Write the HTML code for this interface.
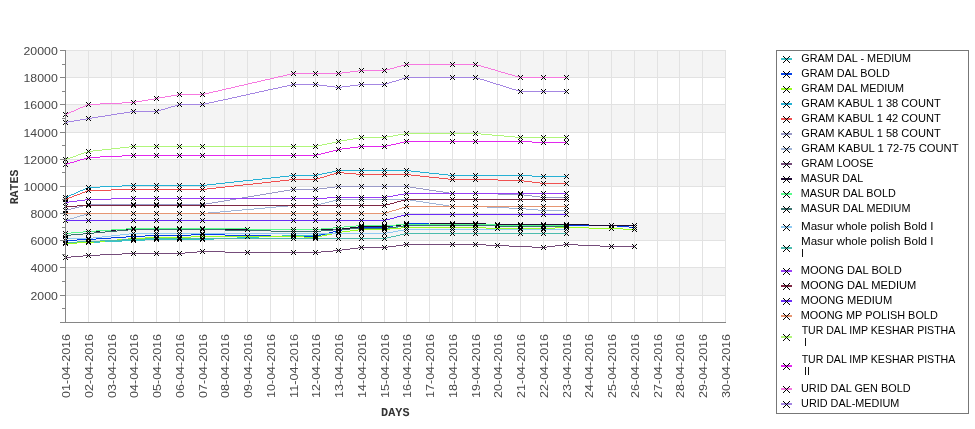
<!DOCTYPE html>
<html><head><meta charset="utf-8"><title>Rates chart</title>
<style>
html,body{margin:0;padding:0;background:#fff;}
body{width:975px;height:429px;overflow:hidden;font-family:"Liberation Sans",sans-serif;}
svg{display:block;will-change:transform;}
svg text{font-family:"Liberation Sans",sans-serif;}
.mono{font-family:"Liberation Mono",monospace;font-weight:bold;text-rendering:geometricPrecision;}
</style></head><body>
<svg width="975" height="429" viewBox="0 0 975 429">
<rect x="0" y="0" width="975" height="429" fill="#ffffff"/>
<g shape-rendering="crispEdges">
<rect x="66" y="50" width="660" height="27" fill="#f4f4f4"/>
<rect x="66" y="104" width="660" height="28" fill="#f4f4f4"/>
<rect x="66" y="159" width="660" height="27" fill="#f4f4f4"/>
<rect x="66" y="213" width="660" height="27" fill="#f4f4f4"/>
<rect x="66" y="267" width="660" height="28" fill="#f4f4f4"/>
<rect x="66" y="295" width="660" height="1" fill="#e2e2e2"/>
<rect x="66" y="267" width="660" height="1" fill="#e2e2e2"/>
<rect x="66" y="240" width="660" height="1" fill="#e2e2e2"/>
<rect x="66" y="213" width="660" height="1" fill="#e2e2e2"/>
<rect x="66" y="186" width="660" height="1" fill="#e2e2e2"/>
<rect x="66" y="159" width="660" height="1" fill="#e2e2e2"/>
<rect x="66" y="132" width="660" height="1" fill="#e2e2e2"/>
<rect x="66" y="104" width="660" height="1" fill="#e2e2e2"/>
<rect x="66" y="77" width="660" height="1" fill="#e2e2e2"/>
<rect x="66" y="50" width="660" height="1" fill="#e2e2e2"/>
<rect x="88" y="50" width="1" height="272" fill="#e2e2e2"/>
<rect x="111" y="50" width="1" height="272" fill="#e2e2e2"/>
<rect x="133" y="50" width="1" height="272" fill="#e2e2e2"/>
<rect x="156" y="50" width="1" height="272" fill="#e2e2e2"/>
<rect x="179" y="50" width="1" height="272" fill="#e2e2e2"/>
<rect x="202" y="50" width="1" height="272" fill="#e2e2e2"/>
<rect x="224" y="50" width="1" height="272" fill="#e2e2e2"/>
<rect x="247" y="50" width="1" height="272" fill="#e2e2e2"/>
<rect x="270" y="50" width="1" height="272" fill="#e2e2e2"/>
<rect x="293" y="50" width="1" height="272" fill="#e2e2e2"/>
<rect x="315" y="50" width="1" height="272" fill="#e2e2e2"/>
<rect x="338" y="50" width="1" height="272" fill="#e2e2e2"/>
<rect x="361" y="50" width="1" height="272" fill="#e2e2e2"/>
<rect x="384" y="50" width="1" height="272" fill="#e2e2e2"/>
<rect x="406" y="50" width="1" height="272" fill="#e2e2e2"/>
<rect x="429" y="50" width="1" height="272" fill="#e2e2e2"/>
<rect x="452" y="50" width="1" height="272" fill="#e2e2e2"/>
<rect x="475" y="50" width="1" height="272" fill="#e2e2e2"/>
<rect x="497" y="50" width="1" height="272" fill="#e2e2e2"/>
<rect x="520" y="50" width="1" height="272" fill="#e2e2e2"/>
<rect x="543" y="50" width="1" height="272" fill="#e2e2e2"/>
<rect x="566" y="50" width="1" height="272" fill="#e2e2e2"/>
<rect x="588" y="50" width="1" height="272" fill="#e2e2e2"/>
<rect x="611" y="50" width="1" height="272" fill="#e2e2e2"/>
<rect x="634" y="50" width="1" height="272" fill="#e2e2e2"/>
<rect x="657" y="50" width="1" height="272" fill="#e2e2e2"/>
<rect x="679" y="50" width="1" height="272" fill="#e2e2e2"/>
<rect x="702" y="50" width="1" height="272" fill="#e2e2e2"/>
<rect x="725" y="50" width="1" height="272" fill="#e2e2e2"/>
</g>
<g font-size="11.6" fill="#484848" text-anchor="end">
<text x="57.8" y="299.8" textLength="27.3" lengthAdjust="spacingAndGlyphs">2000</text>
<text x="57.8" y="271.8" textLength="27.3" lengthAdjust="spacingAndGlyphs">4000</text>
<text x="57.8" y="244.8" textLength="27.3" lengthAdjust="spacingAndGlyphs">6000</text>
<text x="57.8" y="217.8" textLength="27.3" lengthAdjust="spacingAndGlyphs">8000</text>
<text x="57.8" y="190.8" textLength="34.3" lengthAdjust="spacingAndGlyphs">10000</text>
<text x="57.8" y="163.8" textLength="34.3" lengthAdjust="spacingAndGlyphs">12000</text>
<text x="57.8" y="136.8" textLength="34.3" lengthAdjust="spacingAndGlyphs">14000</text>
<text x="57.8" y="108.8" textLength="34.3" lengthAdjust="spacingAndGlyphs">16000</text>
<text x="57.8" y="81.8" textLength="34.3" lengthAdjust="spacingAndGlyphs">18000</text>
<text x="57.8" y="54.8" textLength="34.3" lengthAdjust="spacingAndGlyphs">20000</text>
</g>
<g font-size="11.6" fill="#484848" text-anchor="end">
<text transform="translate(70.1,334) rotate(-90)" textLength="63.9" lengthAdjust="spacingAndGlyphs">01-04-2016</text>
<text transform="translate(93.1,334) rotate(-90)" textLength="63.9" lengthAdjust="spacingAndGlyphs">02-04-2016</text>
<text transform="translate(116.1,334) rotate(-90)" textLength="63.9" lengthAdjust="spacingAndGlyphs">03-04-2016</text>
<text transform="translate(138.1,334) rotate(-90)" textLength="63.9" lengthAdjust="spacingAndGlyphs">04-04-2016</text>
<text transform="translate(161.1,334) rotate(-90)" textLength="63.9" lengthAdjust="spacingAndGlyphs">05-04-2016</text>
<text transform="translate(184.1,334) rotate(-90)" textLength="63.9" lengthAdjust="spacingAndGlyphs">06-04-2016</text>
<text transform="translate(207.1,334) rotate(-90)" textLength="63.9" lengthAdjust="spacingAndGlyphs">07-04-2016</text>
<text transform="translate(229.1,334) rotate(-90)" textLength="63.9" lengthAdjust="spacingAndGlyphs">08-04-2016</text>
<text transform="translate(252.1,334) rotate(-90)" textLength="63.9" lengthAdjust="spacingAndGlyphs">09-04-2016</text>
<text transform="translate(275.1,334) rotate(-90)" textLength="63.9" lengthAdjust="spacingAndGlyphs">10-04-2016</text>
<text transform="translate(298.1,334) rotate(-90)" textLength="63.9" lengthAdjust="spacingAndGlyphs">11-04-2016</text>
<text transform="translate(320.1,334) rotate(-90)" textLength="63.9" lengthAdjust="spacingAndGlyphs">12-04-2016</text>
<text transform="translate(343.1,334) rotate(-90)" textLength="63.9" lengthAdjust="spacingAndGlyphs">13-04-2016</text>
<text transform="translate(366.1,334) rotate(-90)" textLength="63.9" lengthAdjust="spacingAndGlyphs">14-04-2016</text>
<text transform="translate(389.1,334) rotate(-90)" textLength="63.9" lengthAdjust="spacingAndGlyphs">15-04-2016</text>
<text transform="translate(411.1,334) rotate(-90)" textLength="63.9" lengthAdjust="spacingAndGlyphs">16-04-2016</text>
<text transform="translate(434.1,334) rotate(-90)" textLength="63.9" lengthAdjust="spacingAndGlyphs">17-04-2016</text>
<text transform="translate(457.1,334) rotate(-90)" textLength="63.9" lengthAdjust="spacingAndGlyphs">18-04-2016</text>
<text transform="translate(480.1,334) rotate(-90)" textLength="63.9" lengthAdjust="spacingAndGlyphs">19-04-2016</text>
<text transform="translate(502.1,334) rotate(-90)" textLength="63.9" lengthAdjust="spacingAndGlyphs">20-04-2016</text>
<text transform="translate(525.1,334) rotate(-90)" textLength="63.9" lengthAdjust="spacingAndGlyphs">21-04-2016</text>
<text transform="translate(548.1,334) rotate(-90)" textLength="63.9" lengthAdjust="spacingAndGlyphs">22-04-2016</text>
<text transform="translate(571.1,334) rotate(-90)" textLength="63.9" lengthAdjust="spacingAndGlyphs">23-04-2016</text>
<text transform="translate(593.1,334) rotate(-90)" textLength="63.9" lengthAdjust="spacingAndGlyphs">24-04-2016</text>
<text transform="translate(616.1,334) rotate(-90)" textLength="63.9" lengthAdjust="spacingAndGlyphs">25-04-2016</text>
<text transform="translate(639.1,334) rotate(-90)" textLength="63.9" lengthAdjust="spacingAndGlyphs">26-04-2016</text>
<text transform="translate(662.1,334) rotate(-90)" textLength="63.9" lengthAdjust="spacingAndGlyphs">27-04-2016</text>
<text transform="translate(684.1,334) rotate(-90)" textLength="63.9" lengthAdjust="spacingAndGlyphs">28-04-2016</text>
<text transform="translate(707.1,334) rotate(-90)" textLength="63.9" lengthAdjust="spacingAndGlyphs">29-04-2016</text>
<text transform="translate(730.1,334) rotate(-90)" textLength="63.9" lengthAdjust="spacingAndGlyphs">30-04-2016</text>
</g>
<text class="mono" x="395.3" y="416" font-size="12" fill="#333" text-anchor="middle" textLength="28.4" lengthAdjust="spacingAndGlyphs">DAYS</text>
<text class="mono" transform="translate(18.4,187) rotate(-90)" font-size="12" fill="#333" text-anchor="middle" textLength="34.6" lengthAdjust="spacingAndGlyphs">RATES</text>
<defs><path id="mk" d="M-2-2h1v1h-1zM-1-1h1v1h-1zM0 0h1v1h-1zM1 1h1v1h-1zM2 2h1v1h-1zM-2 2h1v1h-1zM-1 1h1v1h-1zM1-1h1v1h-1zM2-2h1v1h-1z" fill="#000"/><path id="mkL" d="M-3-3h1v1h-1zM-2-2h1v1h-1zM-1-1h1v1h-1zM0 0h1v1h-1zM1 1h1v1h-1zM2 2h1v1h-1zM3 3h1v1h-1zM-3 3h1v1h-1zM-2 2h1v1h-1zM-1 1h1v1h-1zM1-1h1v1h-1zM2-2h1v1h-1zM3-3h1v1h-1z" fill="#000"/></defs>
<g shape-rendering="crispEdges">
<path d="M65 243h12v1h-12zM77 242h12v1h-12zM88 242h12v1h-12zM100 241h22v1h-22zM122 240h12v1h-12zM133 240h12v1h-12zM145 239h12v1h-12zM156 239h24v1h-24zM179 239h24v1h-24zM202 239h12v1h-12zM214 238h23v1h-23zM237 237h22v1h-22zM259 236h23v1h-23zM282 235h12v1h-12zM293 235h23v1h-23zM315 235h4v1h-4zM319 234h8v1h-8zM327 233h8v1h-8zM335 232h4v1h-4zM338 232h4v1h-4zM342 231h8v1h-8zM350 230h8v1h-8zM358 229h4v1h-4zM361 229h24v1h-24zM384 229h3v1h-3zM387 228h6v1h-6zM393 227h5v1h-5zM398 226h6v1h-6zM404 225h3v1h-3zM406 225h47v1h-47zM452 225h24v1h-24zM475 225h23v1h-23zM498 226h23v1h-23zM520 226h24v1h-24zM543 226h24v1h-24z" fill="#3ac4c8"/>
<path d="M65 240h12v1h-12zM77 239h12v1h-12zM88 239h8v1h-8zM96 238h15v1h-15zM111 237h15v1h-15zM126 236h8v1h-8zM133 236h12v1h-12zM145 235h12v1h-12zM156 235h24v1h-24zM179 235h12v1h-12zM191 234h12v1h-12zM202 234h23v1h-23zM225 235h46v1h-46zM271 236h23v1h-23zM293 236h23v1h-23zM315 236h2v1h-2zM317 235h4v1h-4zM321 234h4v1h-4zM325 233h4v1h-4zM329 232h4v1h-4zM333 231h4v1h-4zM337 230h2v1h-2zM338 230h4v1h-4zM342 229h8v1h-8zM350 228h8v1h-8zM358 227h4v1h-4zM361 227h24v1h-24zM384 227h3v1h-3zM387 226h6v1h-6zM393 225h5v1h-5zM398 224h6v1h-6zM404 223h3v1h-3zM406 223h23v1h-23zM429 224h24v1h-24zM452 224h24v1h-24zM475 224h11v1h-11zM486 225h12v1h-12zM497 225h24v1h-24zM520 225h24v1h-24zM543 225h24v1h-24zM566 225h46v1h-46zM611 225h6v1h-6zM617 226h12v1h-12zM629 227h6v1h-6z" fill="#0442e8"/>
<path d="M65 243h12v1h-12zM77 242h12v1h-12zM88 242h6v1h-6zM94 241h11v1h-11zM105 240h12v1h-12zM117 239h11v1h-11zM128 238h6v1h-6zM133 238h12v1h-12zM145 237h12v1h-12zM156 237h24v1h-24zM179 237h12v1h-12zM191 236h12v1h-12zM202 236h46v1h-46zM247 236h47v1h-47zM293 236h11v1h-11zM304 237h12v1h-12zM315 237h3v1h-3zM318 236h4v1h-4zM322 235h5v1h-5zM327 234h5v1h-5zM332 233h4v1h-4zM336 232h3v1h-3zM338 232h4v1h-4zM342 231h8v1h-8zM350 230h8v1h-8zM358 229h4v1h-4zM361 229h24v1h-24zM384 229h6v1h-6zM390 228h11v1h-11zM401 227h6v1h-6zM406 227h47v1h-47zM452 227h24v1h-24zM475 227h11v1h-11zM486 228h12v1h-12zM497 228h24v1h-24zM520 228h24v1h-24zM543 228h12v1h-12zM555 227h12v1h-12zM566 227h23v1h-23zM589 228h23v1h-23zM611 228h12v1h-12zM623 229h12v1h-12z" fill="#9afe22"/>
<path d="M65 197h2v1h-2zM67 196h2v1h-2zM69 195h2v1h-2zM71 194h3v1h-3zM74 193h2v1h-2zM76 192h2v1h-2zM78 191h2v1h-2zM80 190h3v1h-3zM83 189h2v1h-2zM85 188h2v1h-2zM87 187h2v1h-2zM88 187h12v1h-12zM100 186h22v1h-22zM122 185h12v1h-12zM133 185h24v1h-24zM156 185h24v1h-24zM179 185h24v1h-24zM202 185h5v1h-5zM207 184h9v1h-9zM216 183h9v1h-9zM225 182h9v1h-9zM234 181h9v1h-9zM243 180h10v1h-10zM253 179h9v1h-9zM262 178h9v1h-9zM271 177h9v1h-9zM280 176h9v1h-9zM289 175h5v1h-5zM293 175h23v1h-23zM315 175h3v1h-3zM318 174h4v1h-4zM322 173h5v1h-5zM327 172h5v1h-5zM332 171h4v1h-4zM336 170h3v1h-3zM338 170h24v1h-24zM361 170h24v1h-24zM384 170h23v1h-23zM406 170h5v1h-5zM411 171h9v1h-9zM420 172h9v1h-9zM429 173h10v1h-10zM439 174h9v1h-9zM448 175h5v1h-5zM452 175h24v1h-24zM475 175h46v1h-46zM520 175h12v1h-12zM532 176h12v1h-12zM543 176h24v1h-24z" fill="#26b0d4"/>
<path d="M65 199h2v1h-2zM67 198h2v1h-2zM69 197h3v1h-3zM72 196h2v1h-2zM74 195h3v1h-3zM77 194h3v1h-3zM80 193h2v1h-2zM82 192h3v1h-3zM85 191h2v1h-2zM87 190h2v1h-2zM88 190h23v1h-23zM111 189h23v1h-23zM133 189h24v1h-24zM156 189h24v1h-24zM179 189h24v1h-24zM202 189h5v1h-5zM207 188h9v1h-9zM216 187h9v1h-9zM225 186h9v1h-9zM234 185h9v1h-9zM243 184h10v1h-10zM253 183h9v1h-9zM262 182h9v1h-9zM271 181h9v1h-9zM280 180h9v1h-9zM289 179h5v1h-5zM293 179h23v1h-23zM315 179h2v1h-2zM317 178h3v1h-3zM320 177h4v1h-4zM324 176h3v1h-3zM327 175h3v1h-3zM330 174h4v1h-4zM334 173h3v1h-3zM337 172h2v1h-2zM338 172h6v1h-6zM344 173h12v1h-12zM356 174h6v1h-6zM361 174h24v1h-24zM384 174h23v1h-23zM406 174h5v1h-5zM411 175h9v1h-9zM420 176h9v1h-9zM429 177h10v1h-10zM439 178h9v1h-9zM448 179h5v1h-5zM452 179h24v1h-24zM475 179h23v1h-23zM498 180h23v1h-23zM520 180h4v1h-4zM524 181h8v1h-8zM532 182h8v1h-8zM540 183h4v1h-4zM543 183h24v1h-24z" fill="#f05050"/>
<path d="M65 210h2v1h-2zM67 209h4v1h-4zM71 208h4v1h-4zM75 207h4v1h-4zM79 206h4v1h-4zM83 205h4v1h-4zM87 204h2v1h-2zM88 204h46v1h-46zM133 204h24v1h-24zM156 204h24v1h-24zM179 204h24v1h-24zM202 204h4v1h-4zM206 203h6v1h-6zM212 202h6v1h-6zM218 201h6v1h-6zM224 200h6v1h-6zM230 199h6v1h-6zM236 198h6v1h-6zM242 197h6v1h-6zM248 196h6v1h-6zM254 195h6v1h-6zM260 194h6v1h-6zM266 193h6v1h-6zM272 192h6v1h-6zM278 191h6v1h-6zM284 190h6v1h-6zM290 189h4v1h-4zM293 189h23v1h-23zM315 189h4v1h-4zM319 188h8v1h-8zM327 187h8v1h-8zM335 186h4v1h-4zM338 186h24v1h-24zM361 186h24v1h-24zM384 186h23v1h-23zM406 186h4v1h-4zM410 187h6v1h-6zM416 188h7v1h-7zM423 189h6v1h-6zM429 190h7v1h-7zM436 191h7v1h-7zM443 192h6v1h-6zM449 193h4v1h-4zM452 193h24v1h-24zM475 193h23v1h-23zM498 194h23v1h-23zM520 194h4v1h-4zM524 195h8v1h-8zM532 196h8v1h-8zM540 197h4v1h-4zM543 197h24v1h-24z" fill="#9a9ac8"/>
<path d="M65 220h2v1h-2zM67 219h3v1h-3zM70 218h4v1h-4zM74 217h3v1h-3zM77 216h3v1h-3zM80 215h4v1h-4zM84 214h3v1h-3zM87 213h2v1h-2zM88 213h46v1h-46zM133 213h24v1h-24zM156 213h24v1h-24zM179 213h24v1h-24zM202 213h6v1h-6zM208 212h12v1h-12zM220 211h11v1h-11zM231 210h11v1h-11zM242 209h12v1h-12zM254 208h11v1h-11zM265 207h11v1h-11zM276 206h12v1h-12zM288 205h6v1h-6zM293 205h23v1h-23zM315 205h2v1h-2zM317 204h4v1h-4zM321 203h4v1h-4zM325 202h4v1h-4zM329 201h4v1h-4zM333 200h4v1h-4zM337 199h2v1h-2zM338 199h24v1h-24zM361 199h24v1h-24zM384 199h23v1h-23zM406 199h4v1h-4zM410 200h6v1h-6zM416 201h7v1h-7zM423 202h6v1h-6zM429 203h7v1h-7zM436 204h7v1h-7zM443 205h6v1h-6zM449 206h4v1h-4zM452 206h24v1h-24zM475 206h12v1h-12zM487 207h22v1h-22zM509 208h12v1h-12zM520 208h6v1h-6zM526 209h12v1h-12zM538 210h6v1h-6zM543 210h24v1h-24z" fill="#a0b4d6"/>
<path d="M65 257h6v1h-6zM71 256h12v1h-12zM83 255h6v1h-6zM88 255h12v1h-12zM100 254h22v1h-22zM122 253h12v1h-12zM133 253h24v1h-24zM156 253h24v1h-24zM179 253h6v1h-6zM185 252h12v1h-12zM197 251h6v1h-6zM202 251h23v1h-23zM225 252h23v1h-23zM247 252h47v1h-47zM293 252h23v1h-23zM315 252h6v1h-6zM321 251h12v1h-12zM333 250h6v1h-6zM338 250h4v1h-4zM342 249h8v1h-8zM350 248h8v1h-8zM358 247h4v1h-4zM361 247h24v1h-24zM384 247h4v1h-4zM388 246h8v1h-8zM396 245h7v1h-7zM403 244h4v1h-4zM406 244h47v1h-47zM452 244h24v1h-24zM475 244h11v1h-11zM486 245h12v1h-12zM497 245h12v1h-12zM509 246h23v1h-23zM532 247h12v1h-12zM543 247h4v1h-4zM547 246h8v1h-8zM555 245h8v1h-8zM563 244h4v1h-4zM566 244h12v1h-12zM578 245h22v1h-22zM600 246h12v1h-12zM611 246h24v1h-24z" fill="#754c7a"/>
<path d="M65 235h6v1h-6zM71 234h12v1h-12zM83 233h6v1h-6zM88 233h6v1h-6zM94 232h11v1h-11zM105 231h12v1h-12zM117 230h11v1h-11zM128 229h6v1h-6zM133 229h24v1h-24zM156 229h24v1h-24zM179 229h24v1h-24zM202 229h46v1h-46zM247 229h47v1h-47zM293 229h23v1h-23zM315 229h24v1h-24zM338 229h4v1h-4zM342 228h8v1h-8zM350 227h8v1h-8zM358 226h4v1h-4zM361 226h24v1h-24zM384 226h6v1h-6zM390 225h11v1h-11zM401 224h6v1h-6zM406 224h24v1h-24zM430 223h23v1h-23zM452 223h24v1h-24zM475 223h11v1h-11zM486 224h12v1h-12zM497 224h24v1h-24zM520 224h24v1h-24zM543 224h24v1h-24zM566 224h23v1h-23zM589 225h23v1h-23zM611 225h24v1h-24z" fill="#200c34"/>
<path d="M65 233h6v1h-6zM71 232h12v1h-12zM83 231h6v1h-6zM88 231h8v1h-8zM96 230h15v1h-15zM111 229h15v1h-15zM126 228h8v1h-8zM133 228h24v1h-24zM156 228h24v1h-24zM179 228h24v1h-24zM202 228h46v1h-46zM248 229h46v1h-46zM293 229h23v1h-23zM315 229h6v1h-6zM321 228h12v1h-12zM333 227h6v1h-6zM338 227h6v1h-6zM344 226h12v1h-12zM356 225h6v1h-6zM361 225h24v1h-24zM384 225h12v1h-12zM396 224h11v1h-11zM406 224h47v1h-47zM452 224h24v1h-24zM475 224h23v1h-23zM498 225h23v1h-23zM520 225h24v1h-24zM543 225h24v1h-24z" fill="#58fc8c"/>
<path d="M65 235h6v1h-6zM71 234h12v1h-12zM83 233h6v1h-6zM88 233h6v1h-6zM94 232h11v1h-11zM105 231h12v1h-12zM117 230h11v1h-11zM128 229h6v1h-6zM133 229h24v1h-24zM156 229h24v1h-24zM179 229h24v1h-24zM202 229h23v1h-23zM225 230h46v1h-46zM271 231h23v1h-23zM293 231h23v1h-23zM315 231h6v1h-6zM321 230h12v1h-12zM333 229h6v1h-6zM338 229h12v1h-12zM350 228h12v1h-12zM361 228h24v1h-24zM384 228h4v1h-4zM388 227h8v1h-8zM396 226h7v1h-7zM403 225h4v1h-4zM406 225h47v1h-47zM452 225h24v1h-24zM475 225h23v1h-23zM498 226h23v1h-23zM520 226h24v1h-24zM543 226h24v1h-24z" fill="#3c7470"/>
<path d="M65 238h24v1h-24zM88 238h5v1h-5zM93 237h9v1h-9zM102 236h9v1h-9zM111 235h9v1h-9zM120 234h9v1h-9zM129 233h5v1h-5zM133 233h24v1h-24zM156 233h24v1h-24zM179 233h24v1h-24zM202 233h92v1h-92zM293 233h23v1h-23zM315 233h24v1h-24zM338 233h24v1h-24zM361 233h24v1h-24zM384 233h3v1h-3zM387 232h6v1h-6zM393 231h5v1h-5zM398 230h6v1h-6zM404 229h3v1h-3zM406 229h47v1h-47zM452 229h24v1h-24zM475 229h46v1h-46zM520 229h24v1h-24zM543 229h24v1h-24z" fill="#90caf2"/>
<path d="M65 242h12v1h-12zM77 241h12v1h-12zM88 241h12v1h-12zM100 240h22v1h-22zM122 239h12v1h-12zM133 239h12v1h-12zM145 238h12v1h-12zM156 238h24v1h-24zM179 238h24v1h-24zM202 238h92v1h-92zM293 238h23v1h-23zM315 238h24v1h-24zM338 238h24v1h-24zM361 238h24v1h-24zM384 238h3v1h-3zM387 237h4v1h-4zM391 236h5v1h-5zM396 235h4v1h-4zM400 234h4v1h-4zM404 233h3v1h-3zM406 233h47v1h-47zM452 233h24v1h-24zM475 233h46v1h-46zM520 233h24v1h-24zM543 233h24v1h-24z" fill="#4cbcae"/>
<path d="M65 202h4v1h-4zM69 201h8v1h-8zM77 200h8v1h-8zM85 199h4v1h-4zM88 199h23v1h-23zM111 198h23v1h-23zM133 198h24v1h-24zM156 198h24v1h-24zM179 198h24v1h-24zM202 198h92v1h-92zM293 198h23v1h-23zM315 198h12v1h-12zM327 197h12v1h-12zM338 197h24v1h-24zM361 197h24v1h-24zM384 197h3v1h-3zM387 196h6v1h-6zM393 195h5v1h-5zM398 194h6v1h-6zM404 193h3v1h-3zM406 193h47v1h-47zM452 193h24v1h-24zM475 193h46v1h-46zM520 193h24v1h-24zM543 193h24v1h-24z" fill="#983ef6"/>
<path d="M65 206h12v1h-12zM77 205h12v1h-12zM88 205h46v1h-46zM133 205h24v1h-24zM156 205h24v1h-24zM179 205h24v1h-24zM202 205h92v1h-92zM293 205h23v1h-23zM315 205h24v1h-24zM338 205h24v1h-24zM361 205h24v1h-24zM384 205h2v1h-2zM386 204h4v1h-4zM390 203h4v1h-4zM394 202h3v1h-3zM397 201h4v1h-4zM401 200h4v1h-4zM405 199h2v1h-2zM406 199h47v1h-47zM452 199h24v1h-24zM475 199h46v1h-46zM520 199h24v1h-24zM543 199h24v1h-24z" fill="#7e2844"/>
<path d="M65 220h24v1h-24zM88 220h46v1h-46zM133 220h24v1h-24zM156 220h24v1h-24zM179 220h24v1h-24zM202 220h92v1h-92zM293 220h23v1h-23zM315 220h24v1h-24zM338 220h24v1h-24zM361 220h24v1h-24zM384 220h2v1h-2zM386 219h4v1h-4zM390 218h4v1h-4zM394 217h3v1h-3zM397 216h4v1h-4zM401 215h4v1h-4zM405 214h2v1h-2zM406 214h47v1h-47zM452 214h24v1h-24zM475 214h46v1h-46zM520 214h24v1h-24zM543 214h24v1h-24z" fill="#6a2cf8"/>
<path d="M65 213h24v1h-24zM88 213h46v1h-46zM133 213h24v1h-24zM156 213h24v1h-24zM179 213h24v1h-24zM202 213h92v1h-92zM293 213h23v1h-23zM315 213h24v1h-24zM338 213h24v1h-24zM361 213h24v1h-24zM384 213h2v1h-2zM386 212h3v1h-3zM389 211h3v1h-3zM392 210h4v1h-4zM396 209h3v1h-3zM399 208h3v1h-3zM402 207h3v1h-3zM405 206h2v1h-2zM406 206h47v1h-47zM452 206h24v1h-24zM475 206h46v1h-46zM520 206h24v1h-24zM543 206h24v1h-24z" fill="#e69672"/>
<path d="M65 159h2v1h-2zM67 158h3v1h-3zM70 157h3v1h-3zM73 156h3v1h-3zM76 155h2v1h-2zM78 154h3v1h-3zM81 153h3v1h-3zM84 152h3v1h-3zM87 151h2v1h-2zM88 151h5v1h-5zM93 150h9v1h-9zM102 149h9v1h-9zM111 148h9v1h-9zM120 147h9v1h-9zM129 146h5v1h-5zM133 146h24v1h-24zM156 146h24v1h-24zM179 146h24v1h-24zM202 146h92v1h-92zM293 146h23v1h-23zM315 146h3v1h-3zM318 145h4v1h-4zM322 144h5v1h-5zM327 143h5v1h-5zM332 142h4v1h-4zM336 141h3v1h-3zM338 141h3v1h-3zM341 140h6v1h-6zM347 139h6v1h-6zM353 138h6v1h-6zM359 137h3v1h-3zM361 137h24v1h-24zM384 137h3v1h-3zM387 136h6v1h-6zM393 135h5v1h-5zM398 134h6v1h-6zM404 133h3v1h-3zM406 133h47v1h-47zM452 133h24v1h-24zM475 133h6v1h-6zM481 134h11v1h-11zM492 135h12v1h-12zM504 136h11v1h-11zM515 137h6v1h-6zM520 137h24v1h-24zM543 137h24v1h-24z" fill="#b0f67a"/>
<path d="M65 164h2v1h-2zM67 163h3v1h-3zM70 162h4v1h-4zM74 161h3v1h-3zM77 160h3v1h-3zM80 159h4v1h-4zM84 158h3v1h-3zM87 157h2v1h-2zM88 157h12v1h-12zM100 156h22v1h-22zM122 155h12v1h-12zM133 155h24v1h-24zM156 155h24v1h-24zM179 155h24v1h-24zM202 155h92v1h-92zM293 155h23v1h-23zM315 155h2v1h-2zM317 154h4v1h-4zM321 153h4v1h-4zM325 152h4v1h-4zM329 151h4v1h-4zM333 150h4v1h-4zM337 149h2v1h-2zM338 149h4v1h-4zM342 148h8v1h-8zM350 147h8v1h-8zM358 146h4v1h-4zM361 146h24v1h-24zM384 146h3v1h-3zM387 145h4v1h-4zM391 144h5v1h-5zM396 143h4v1h-4zM400 142h4v1h-4zM404 141h3v1h-3zM406 141h47v1h-47zM452 141h24v1h-24zM475 141h46v1h-46zM520 141h12v1h-12zM532 142h12v1h-12zM543 142h24v1h-24z" fill="#e228ee"/>
<path d="M65 114h2v1h-2zM67 113h2v1h-2zM69 112h2v1h-2zM71 111h3v1h-3zM74 110h2v1h-2zM76 109h2v1h-2zM78 108h2v1h-2zM80 107h3v1h-3zM83 106h2v1h-2zM85 105h2v1h-2zM87 104h2v1h-2zM88 104h12v1h-12zM100 103h22v1h-22zM122 102h12v1h-12zM133 102h3v1h-3zM136 101h6v1h-6zM142 100h6v1h-6zM148 99h6v1h-6zM154 98h3v1h-3zM156 98h3v1h-3zM159 97h6v1h-6zM165 96h6v1h-6zM171 95h6v1h-6zM177 94h3v1h-3zM179 94h24v1h-24zM202 94h3v1h-3zM205 93h4v1h-4zM209 92h4v1h-4zM213 91h5v1h-5zM218 90h4v1h-4zM222 89h4v1h-4zM226 88h5v1h-5zM231 87h4v1h-4zM235 86h4v1h-4zM239 85h5v1h-5zM244 84h4v1h-4zM248 83h4v1h-4zM252 82h5v1h-5zM257 81h4v1h-4zM261 80h4v1h-4zM265 79h5v1h-5zM270 78h4v1h-4zM274 77h4v1h-4zM278 76h5v1h-5zM283 75h4v1h-4zM287 74h4v1h-4zM291 73h3v1h-3zM293 73h23v1h-23zM315 73h24v1h-24zM338 73h4v1h-4zM342 72h8v1h-8zM350 71h8v1h-8zM358 70h4v1h-4zM361 70h24v1h-24zM384 70h2v1h-2zM386 69h4v1h-4zM390 68h4v1h-4zM394 67h3v1h-3zM397 66h4v1h-4zM401 65h4v1h-4zM405 64h2v1h-2zM406 64h47v1h-47zM452 64h24v1h-24zM475 64h2v1h-2zM477 65h4v1h-4zM481 66h3v1h-3zM484 67h4v1h-4zM488 68h3v1h-3zM491 69h4v1h-4zM495 70h3v1h-3zM498 71h3v1h-3zM501 72h4v1h-4zM505 73h3v1h-3zM508 74h4v1h-4zM512 75h3v1h-3zM515 76h4v1h-4zM519 77h2v1h-2zM520 77h24v1h-24zM543 77h24v1h-24z" fill="#f678e0"/>
<path d="M65 122h3v1h-3zM68 121h6v1h-6zM74 120h6v1h-6zM80 119h6v1h-6zM86 118h3v1h-3zM88 118h4v1h-4zM92 117h6v1h-6zM98 116h7v1h-7zM105 115h6v1h-6zM111 114h6v1h-6zM117 113h7v1h-7zM124 112h6v1h-6zM130 111h4v1h-4zM133 111h24v1h-24zM156 111h2v1h-2zM158 110h3v1h-3zM161 109h4v1h-4zM165 108h3v1h-3zM168 107h3v1h-3zM171 106h4v1h-4zM175 105h3v1h-3zM178 104h2v1h-2zM179 104h24v1h-24zM202 104h3v1h-3zM205 103h4v1h-4zM209 102h5v1h-5zM214 101h4v1h-4zM218 100h5v1h-5zM223 99h5v1h-5zM228 98h4v1h-4zM232 97h5v1h-5zM237 96h4v1h-4zM241 95h5v1h-5zM246 94h4v1h-4zM250 93h5v1h-5zM255 92h4v1h-4zM259 91h5v1h-5zM264 90h4v1h-4zM268 89h5v1h-5zM273 88h5v1h-5zM278 87h4v1h-4zM282 86h5v1h-5zM287 85h4v1h-4zM291 84h3v1h-3zM293 84h23v1h-23zM315 84h4v1h-4zM319 85h8v1h-8zM327 86h8v1h-8zM335 87h4v1h-4zM338 87h4v1h-4zM342 86h8v1h-8zM350 85h8v1h-8zM358 84h4v1h-4zM361 84h24v1h-24zM384 84h2v1h-2zM386 83h3v1h-3zM389 82h3v1h-3zM392 81h4v1h-4zM396 80h3v1h-3zM399 79h3v1h-3zM402 78h3v1h-3zM405 77h2v1h-2zM406 77h47v1h-47zM452 77h24v1h-24zM475 77h2v1h-2zM477 78h3v1h-3zM480 79h4v1h-4zM484 80h3v1h-3zM487 81h3v1h-3zM490 82h3v1h-3zM493 83h3v1h-3zM496 84h4v1h-4zM500 85h3v1h-3zM503 86h3v1h-3zM506 87h3v1h-3zM509 88h3v1h-3zM512 89h4v1h-4zM516 90h3v1h-3zM519 91h2v1h-2zM520 91h24v1h-24zM543 91h24v1h-24z" fill="#a486e2"/>
<path d="M96 231h4v1h-4zM111 230h5v1h-5zM126 229h2v1h-2z" fill="#200c34"/>
<use href="#mk" x="65" y="114"/><use href="#mk" x="65" y="122"/><use href="#mk" x="65" y="159"/><use href="#mk" x="65" y="164"/><use href="#mk" x="65" y="197"/><use href="#mk" x="65" y="199"/><use href="#mk" x="65" y="202"/><use href="#mk" x="65" y="206"/><use href="#mk" x="65" y="210"/><use href="#mk" x="65" y="213"/><use href="#mk" x="65" y="220"/><use href="#mk" x="65" y="233"/><use href="#mk" x="65" y="235"/><use href="#mk" x="65" y="238"/><use href="#mk" x="65" y="240"/><use href="#mk" x="65" y="242"/><use href="#mk" x="65" y="243"/><use href="#mk" x="65" y="257"/><use href="#mk" x="88" y="104"/><use href="#mk" x="88" y="118"/><use href="#mk" x="88" y="151"/><use href="#mk" x="88" y="157"/><use href="#mk" x="88" y="187"/><use href="#mk" x="88" y="190"/><use href="#mk" x="88" y="199"/><use href="#mk" x="88" y="204"/><use href="#mk" x="88" y="205"/><use href="#mk" x="88" y="213"/><use href="#mk" x="88" y="220"/><use href="#mk" x="88" y="231"/><use href="#mk" x="88" y="233"/><use href="#mk" x="88" y="238"/><use href="#mk" x="88" y="239"/><use href="#mk" x="88" y="241"/><use href="#mk" x="88" y="242"/><use href="#mk" x="88" y="255"/><use href="#mk" x="133" y="102"/><use href="#mk" x="133" y="111"/><use href="#mk" x="133" y="146"/><use href="#mk" x="133" y="155"/><use href="#mk" x="133" y="185"/><use href="#mk" x="133" y="189"/><use href="#mk" x="133" y="198"/><use href="#mk" x="133" y="204"/><use href="#mk" x="133" y="205"/><use href="#mk" x="133" y="213"/><use href="#mk" x="133" y="220"/><use href="#mk" x="133" y="228"/><use href="#mk" x="133" y="229"/><use href="#mk" x="133" y="233"/><use href="#mk" x="133" y="236"/><use href="#mk" x="133" y="238"/><use href="#mk" x="133" y="239"/><use href="#mk" x="133" y="240"/><use href="#mk" x="133" y="253"/><use href="#mk" x="156" y="98"/><use href="#mk" x="156" y="111"/><use href="#mk" x="156" y="146"/><use href="#mk" x="156" y="155"/><use href="#mk" x="156" y="185"/><use href="#mk" x="156" y="189"/><use href="#mk" x="156" y="198"/><use href="#mk" x="156" y="204"/><use href="#mk" x="156" y="205"/><use href="#mk" x="156" y="213"/><use href="#mk" x="156" y="220"/><use href="#mk" x="156" y="228"/><use href="#mk" x="156" y="229"/><use href="#mk" x="156" y="233"/><use href="#mk" x="156" y="235"/><use href="#mk" x="156" y="237"/><use href="#mk" x="156" y="238"/><use href="#mk" x="156" y="239"/><use href="#mk" x="156" y="253"/><use href="#mk" x="179" y="94"/><use href="#mk" x="179" y="104"/><use href="#mk" x="179" y="146"/><use href="#mk" x="179" y="155"/><use href="#mk" x="179" y="185"/><use href="#mk" x="179" y="189"/><use href="#mk" x="179" y="198"/><use href="#mk" x="179" y="204"/><use href="#mk" x="179" y="205"/><use href="#mk" x="179" y="213"/><use href="#mk" x="179" y="220"/><use href="#mk" x="179" y="228"/><use href="#mk" x="179" y="229"/><use href="#mk" x="179" y="233"/><use href="#mk" x="179" y="235"/><use href="#mk" x="179" y="237"/><use href="#mk" x="179" y="238"/><use href="#mk" x="179" y="239"/><use href="#mk" x="179" y="253"/><use href="#mk" x="202" y="94"/><use href="#mk" x="202" y="104"/><use href="#mk" x="202" y="146"/><use href="#mk" x="202" y="155"/><use href="#mk" x="202" y="185"/><use href="#mk" x="202" y="189"/><use href="#mk" x="202" y="198"/><use href="#mk" x="202" y="204"/><use href="#mk" x="202" y="205"/><use href="#mk" x="202" y="213"/><use href="#mk" x="202" y="220"/><use href="#mk" x="202" y="228"/><use href="#mk" x="202" y="229"/><use href="#mk" x="202" y="233"/><use href="#mk" x="202" y="234"/><use href="#mk" x="202" y="236"/><use href="#mk" x="202" y="238"/><use href="#mk" x="202" y="239"/><use href="#mk" x="202" y="251"/><use href="#mk" x="247" y="229"/><use href="#mk" x="247" y="236"/><use href="#mk" x="247" y="252"/><use href="#mk" x="293" y="73"/><use href="#mk" x="293" y="84"/><use href="#mk" x="293" y="146"/><use href="#mk" x="293" y="155"/><use href="#mk" x="293" y="175"/><use href="#mk" x="293" y="179"/><use href="#mk" x="293" y="189"/><use href="#mk" x="293" y="198"/><use href="#mk" x="293" y="205"/><use href="#mk" x="293" y="213"/><use href="#mk" x="293" y="220"/><use href="#mk" x="293" y="229"/><use href="#mk" x="293" y="231"/><use href="#mk" x="293" y="233"/><use href="#mk" x="293" y="235"/><use href="#mk" x="293" y="236"/><use href="#mk" x="293" y="238"/><use href="#mk" x="293" y="252"/><use href="#mk" x="315" y="73"/><use href="#mk" x="315" y="84"/><use href="#mk" x="315" y="146"/><use href="#mk" x="315" y="155"/><use href="#mk" x="315" y="175"/><use href="#mk" x="315" y="179"/><use href="#mk" x="315" y="189"/><use href="#mk" x="315" y="198"/><use href="#mk" x="315" y="205"/><use href="#mk" x="315" y="213"/><use href="#mk" x="315" y="220"/><use href="#mk" x="315" y="229"/><use href="#mk" x="315" y="231"/><use href="#mk" x="315" y="233"/><use href="#mk" x="315" y="235"/><use href="#mk" x="315" y="236"/><use href="#mk" x="315" y="237"/><use href="#mk" x="315" y="238"/><use href="#mk" x="315" y="252"/><use href="#mk" x="338" y="73"/><use href="#mk" x="338" y="87"/><use href="#mk" x="338" y="141"/><use href="#mk" x="338" y="149"/><use href="#mk" x="338" y="170"/><use href="#mk" x="338" y="172"/><use href="#mk" x="338" y="186"/><use href="#mk" x="338" y="197"/><use href="#mk" x="338" y="199"/><use href="#mk" x="338" y="205"/><use href="#mk" x="338" y="213"/><use href="#mk" x="338" y="220"/><use href="#mk" x="338" y="227"/><use href="#mk" x="338" y="229"/><use href="#mk" x="338" y="230"/><use href="#mk" x="338" y="232"/><use href="#mk" x="338" y="233"/><use href="#mk" x="338" y="238"/><use href="#mk" x="338" y="250"/><use href="#mk" x="361" y="70"/><use href="#mk" x="361" y="84"/><use href="#mk" x="361" y="137"/><use href="#mk" x="361" y="146"/><use href="#mk" x="361" y="170"/><use href="#mk" x="361" y="174"/><use href="#mk" x="361" y="186"/><use href="#mk" x="361" y="197"/><use href="#mk" x="361" y="199"/><use href="#mk" x="361" y="205"/><use href="#mk" x="361" y="213"/><use href="#mk" x="361" y="220"/><use href="#mk" x="361" y="225"/><use href="#mk" x="361" y="226"/><use href="#mk" x="361" y="227"/><use href="#mk" x="361" y="228"/><use href="#mk" x="361" y="229"/><use href="#mk" x="361" y="233"/><use href="#mk" x="361" y="238"/><use href="#mk" x="361" y="247"/><use href="#mk" x="384" y="70"/><use href="#mk" x="384" y="84"/><use href="#mk" x="384" y="137"/><use href="#mk" x="384" y="146"/><use href="#mk" x="384" y="170"/><use href="#mk" x="384" y="174"/><use href="#mk" x="384" y="186"/><use href="#mk" x="384" y="197"/><use href="#mk" x="384" y="199"/><use href="#mk" x="384" y="205"/><use href="#mk" x="384" y="213"/><use href="#mk" x="384" y="220"/><use href="#mk" x="384" y="225"/><use href="#mk" x="384" y="226"/><use href="#mk" x="384" y="227"/><use href="#mk" x="384" y="228"/><use href="#mk" x="384" y="229"/><use href="#mk" x="384" y="233"/><use href="#mk" x="384" y="238"/><use href="#mk" x="384" y="247"/><use href="#mk" x="406" y="64"/><use href="#mk" x="406" y="77"/><use href="#mk" x="406" y="133"/><use href="#mk" x="406" y="141"/><use href="#mk" x="406" y="170"/><use href="#mk" x="406" y="174"/><use href="#mk" x="406" y="186"/><use href="#mk" x="406" y="193"/><use href="#mk" x="406" y="199"/><use href="#mk" x="406" y="206"/><use href="#mk" x="406" y="214"/><use href="#mk" x="406" y="223"/><use href="#mk" x="406" y="224"/><use href="#mk" x="406" y="225"/><use href="#mk" x="406" y="227"/><use href="#mk" x="406" y="229"/><use href="#mk" x="406" y="233"/><use href="#mk" x="406" y="244"/><use href="#mk" x="452" y="64"/><use href="#mk" x="452" y="77"/><use href="#mk" x="452" y="133"/><use href="#mk" x="452" y="141"/><use href="#mk" x="452" y="175"/><use href="#mk" x="452" y="179"/><use href="#mk" x="452" y="193"/><use href="#mk" x="452" y="199"/><use href="#mk" x="452" y="206"/><use href="#mk" x="452" y="214"/><use href="#mk" x="452" y="223"/><use href="#mk" x="452" y="224"/><use href="#mk" x="452" y="225"/><use href="#mk" x="452" y="227"/><use href="#mk" x="452" y="229"/><use href="#mk" x="452" y="233"/><use href="#mk" x="452" y="244"/><use href="#mk" x="475" y="64"/><use href="#mk" x="475" y="77"/><use href="#mk" x="475" y="133"/><use href="#mk" x="475" y="141"/><use href="#mk" x="475" y="175"/><use href="#mk" x="475" y="179"/><use href="#mk" x="475" y="193"/><use href="#mk" x="475" y="199"/><use href="#mk" x="475" y="206"/><use href="#mk" x="475" y="214"/><use href="#mk" x="475" y="223"/><use href="#mk" x="475" y="224"/><use href="#mk" x="475" y="225"/><use href="#mk" x="475" y="227"/><use href="#mk" x="475" y="229"/><use href="#mk" x="475" y="233"/><use href="#mk" x="475" y="244"/><use href="#mk" x="497" y="224"/><use href="#mk" x="497" y="225"/><use href="#mk" x="497" y="228"/><use href="#mk" x="497" y="245"/><use href="#mk" x="520" y="77"/><use href="#mk" x="520" y="91"/><use href="#mk" x="520" y="137"/><use href="#mk" x="520" y="141"/><use href="#mk" x="520" y="175"/><use href="#mk" x="520" y="180"/><use href="#mk" x="520" y="193"/><use href="#mk" x="520" y="194"/><use href="#mk" x="520" y="199"/><use href="#mk" x="520" y="206"/><use href="#mk" x="520" y="208"/><use href="#mk" x="520" y="214"/><use href="#mk" x="520" y="224"/><use href="#mk" x="520" y="225"/><use href="#mk" x="520" y="226"/><use href="#mk" x="520" y="228"/><use href="#mk" x="520" y="229"/><use href="#mk" x="520" y="233"/><use href="#mk" x="543" y="77"/><use href="#mk" x="543" y="91"/><use href="#mk" x="543" y="137"/><use href="#mk" x="543" y="142"/><use href="#mk" x="543" y="176"/><use href="#mk" x="543" y="183"/><use href="#mk" x="543" y="193"/><use href="#mk" x="543" y="197"/><use href="#mk" x="543" y="199"/><use href="#mk" x="543" y="206"/><use href="#mk" x="543" y="210"/><use href="#mk" x="543" y="214"/><use href="#mk" x="543" y="224"/><use href="#mk" x="543" y="225"/><use href="#mk" x="543" y="226"/><use href="#mk" x="543" y="228"/><use href="#mk" x="543" y="229"/><use href="#mk" x="543" y="233"/><use href="#mk" x="543" y="247"/><use href="#mk" x="566" y="77"/><use href="#mk" x="566" y="91"/><use href="#mk" x="566" y="137"/><use href="#mk" x="566" y="142"/><use href="#mk" x="566" y="176"/><use href="#mk" x="566" y="183"/><use href="#mk" x="566" y="193"/><use href="#mk" x="566" y="197"/><use href="#mk" x="566" y="199"/><use href="#mk" x="566" y="206"/><use href="#mk" x="566" y="210"/><use href="#mk" x="566" y="214"/><use href="#mk" x="566" y="224"/><use href="#mk" x="566" y="225"/><use href="#mk" x="566" y="226"/><use href="#mk" x="566" y="227"/><use href="#mk" x="566" y="229"/><use href="#mk" x="566" y="233"/><use href="#mk" x="566" y="244"/><use href="#mk" x="611" y="225"/><use href="#mk" x="611" y="228"/><use href="#mk" x="611" y="246"/><use href="#mk" x="634" y="225"/><use href="#mk" x="634" y="227"/><use href="#mk" x="634" y="229"/><use href="#mk" x="634" y="246"/>
</g>
<g shape-rendering="crispEdges">
<rect x="65" y="50" width="1" height="273" fill="#868686"/>
<rect x="60" y="322" width="666" height="1" fill="#868686"/>
<rect x="62" y="308" width="3" height="1" fill="#868686"/>
<rect x="60" y="295" width="5" height="1" fill="#868686"/>
<rect x="62" y="281" width="3" height="1" fill="#868686"/>
<rect x="60" y="267" width="5" height="1" fill="#868686"/>
<rect x="62" y="254" width="3" height="1" fill="#868686"/>
<rect x="60" y="240" width="5" height="1" fill="#868686"/>
<rect x="62" y="227" width="3" height="1" fill="#868686"/>
<rect x="60" y="213" width="5" height="1" fill="#868686"/>
<rect x="62" y="199" width="3" height="1" fill="#868686"/>
<rect x="60" y="186" width="5" height="1" fill="#868686"/>
<rect x="62" y="172" width="3" height="1" fill="#868686"/>
<rect x="60" y="159" width="5" height="1" fill="#868686"/>
<rect x="62" y="145" width="3" height="1" fill="#868686"/>
<rect x="60" y="132" width="5" height="1" fill="#868686"/>
<rect x="62" y="118" width="3" height="1" fill="#868686"/>
<rect x="60" y="104" width="5" height="1" fill="#868686"/>
<rect x="62" y="91" width="3" height="1" fill="#868686"/>
<rect x="60" y="77" width="5" height="1" fill="#868686"/>
<rect x="62" y="64" width="3" height="1" fill="#868686"/>
<rect x="60" y="50" width="5" height="1" fill="#868686"/>
</g>
<rect x="776.5" y="50.5" width="192" height="363" fill="#fff" stroke="#777" stroke-width="1.2" shape-rendering="crispEdges"/>
<g font-size="11.4" fill="#000">
<rect x="781" y="58" width="11" height="2" fill="#3ac4c8" shape-rendering="crispEdges"/><use href="#mkL" x="786" y="59" shape-rendering="crispEdges"/>
<text x="801.23" y="62" textLength="109.89" lengthAdjust="spacingAndGlyphs">GRAM DAL - MEDIUM</text>
<rect x="781" y="73" width="11" height="2" fill="#0442e8" shape-rendering="crispEdges"/><use href="#mkL" x="786" y="74" shape-rendering="crispEdges"/>
<text x="801.24" y="77" textLength="88.53" lengthAdjust="spacingAndGlyphs">GRAM DAL BOLD</text>
<rect x="781" y="88" width="11" height="2" fill="#9afe22" shape-rendering="crispEdges"/><use href="#mkL" x="786" y="89" shape-rendering="crispEdges"/>
<text x="801.24" y="92" textLength="102.89" lengthAdjust="spacingAndGlyphs">GRAM DAL MEDIUM</text>
<rect x="781" y="103" width="11" height="2" fill="#26b0d4" shape-rendering="crispEdges"/><use href="#mkL" x="786" y="104" shape-rendering="crispEdges"/>
<text x="801.29" y="107" textLength="139.42" lengthAdjust="spacingAndGlyphs">GRAM KABUL 1 38 COUNT</text>
<rect x="781" y="118" width="11" height="2" fill="#f05050" shape-rendering="crispEdges"/><use href="#mkL" x="786" y="119" shape-rendering="crispEdges"/>
<text x="801.29" y="122" textLength="139.42" lengthAdjust="spacingAndGlyphs">GRAM KABUL 1 42 COUNT</text>
<rect x="781" y="133" width="11" height="2" fill="#9a9ac8" shape-rendering="crispEdges"/><use href="#mkL" x="786" y="134" shape-rendering="crispEdges"/>
<text x="801.29" y="137" textLength="139.42" lengthAdjust="spacingAndGlyphs">GRAM KABUL 1 58 COUNT</text>
<rect x="781" y="148" width="11" height="2" fill="#a0b4d6" shape-rendering="crispEdges"/><use href="#mkL" x="786" y="149" shape-rendering="crispEdges"/>
<text x="801.29" y="152" textLength="157.24" lengthAdjust="spacingAndGlyphs">GRAM KABUL 1 72-75 COUNT</text>
<rect x="781" y="163" width="11" height="2" fill="#754c7a" shape-rendering="crispEdges"/><use href="#mkL" x="786" y="164" shape-rendering="crispEdges"/>
<text x="801.25" y="167" textLength="72.29" lengthAdjust="spacingAndGlyphs">GRAM LOOSE</text>
<rect x="781" y="178" width="11" height="2" fill="#200c34" shape-rendering="crispEdges"/><use href="#mkL" x="786" y="179" shape-rendering="crispEdges"/>
<text x="800.78" y="182" textLength="62.33" lengthAdjust="spacingAndGlyphs">MASUR DAL</text>
<rect x="781" y="193" width="11" height="2" fill="#58fc8c" shape-rendering="crispEdges"/><use href="#mkL" x="786" y="194" shape-rendering="crispEdges"/>
<text x="800.76" y="197" textLength="94.99" lengthAdjust="spacingAndGlyphs">MASUR DAL BOLD</text>
<rect x="781" y="208" width="11" height="2" fill="#3c7470" shape-rendering="crispEdges"/><use href="#mkL" x="786" y="209" shape-rendering="crispEdges"/>
<text x="800.75" y="212" textLength="109.69" lengthAdjust="spacingAndGlyphs">MASUR DAL MEDIUM</text>
<rect x="781" y="226" width="11" height="2" fill="#90caf2" shape-rendering="crispEdges"/><use href="#mkL" x="786" y="227" shape-rendering="crispEdges"/>
<text x="800.95" y="230" textLength="132.59" lengthAdjust="spacingAndGlyphs">Masur whole polish Bold I</text>
<rect x="781" y="247" width="11" height="2" fill="#4cbcae" shape-rendering="crispEdges"/><use href="#mkL" x="786" y="248" shape-rendering="crispEdges"/>
<text x="800.95" y="245" textLength="132.59" lengthAdjust="spacingAndGlyphs">Masur whole polish Bold I</text>
<rect x="802" y="249" width="1" height="8" fill="#111" shape-rendering="crispEdges"/>
<rect x="781" y="270" width="11" height="2" fill="#983ef6" shape-rendering="crispEdges"/><use href="#mkL" x="786" y="271" shape-rendering="crispEdges"/>
<text x="800.69" y="274" textLength="101.05" lengthAdjust="spacingAndGlyphs">MOONG DAL BOLD</text>
<rect x="781" y="285" width="11" height="2" fill="#7e2844" shape-rendering="crispEdges"/><use href="#mkL" x="786" y="286" shape-rendering="crispEdges"/>
<text x="800.70" y="289" textLength="115.58" lengthAdjust="spacingAndGlyphs">MOONG DAL MEDIUM</text>
<rect x="781" y="300" width="11" height="2" fill="#6a2cf8" shape-rendering="crispEdges"/><use href="#mkL" x="786" y="301" shape-rendering="crispEdges"/>
<text x="800.69" y="304" textLength="91.49" lengthAdjust="spacingAndGlyphs">MOONG MEDIUM</text>
<rect x="781" y="315" width="11" height="2" fill="#e69672" shape-rendering="crispEdges"/><use href="#mkL" x="786" y="316" shape-rendering="crispEdges"/>
<text x="800.74" y="319" textLength="137.01" lengthAdjust="spacingAndGlyphs">MOONG MP POLISH BOLD</text>
<rect x="781" y="336" width="11" height="2" fill="#b0f67a" shape-rendering="crispEdges"/><use href="#mkL" x="786" y="337" shape-rendering="crispEdges"/>
<text x="801.63" y="334" textLength="153.65" lengthAdjust="spacingAndGlyphs">TUR DAL IMP KESHAR PISTHA</text>
<rect x="805" y="338" width="1" height="8" fill="#111" shape-rendering="crispEdges"/>
<rect x="781" y="365" width="11" height="2" fill="#e228ee" shape-rendering="crispEdges"/><use href="#mkL" x="786" y="366" shape-rendering="crispEdges"/>
<text x="801.63" y="363" textLength="153.65" lengthAdjust="spacingAndGlyphs">TUR DAL IMP KESHAR PISTHA</text>
<rect x="805" y="367" width="1" height="8" fill="#111" shape-rendering="crispEdges"/>
<rect x="808" y="367" width="1" height="8" fill="#111" shape-rendering="crispEdges"/>
<rect x="781" y="388" width="11" height="2" fill="#f678e0" shape-rendering="crispEdges"/><use href="#mkL" x="786" y="389" shape-rendering="crispEdges"/>
<text x="800.97" y="392" textLength="109.68" lengthAdjust="spacingAndGlyphs">URID DAL GEN BOLD</text>
<rect x="781" y="403" width="11" height="2" fill="#a486e2" shape-rendering="crispEdges"/><use href="#mkL" x="786" y="404" shape-rendering="crispEdges"/>
<text x="801.11" y="407" textLength="98.14" lengthAdjust="spacingAndGlyphs">URID DAL-MEDIUM</text>
</g>
</svg>
</body></html>
